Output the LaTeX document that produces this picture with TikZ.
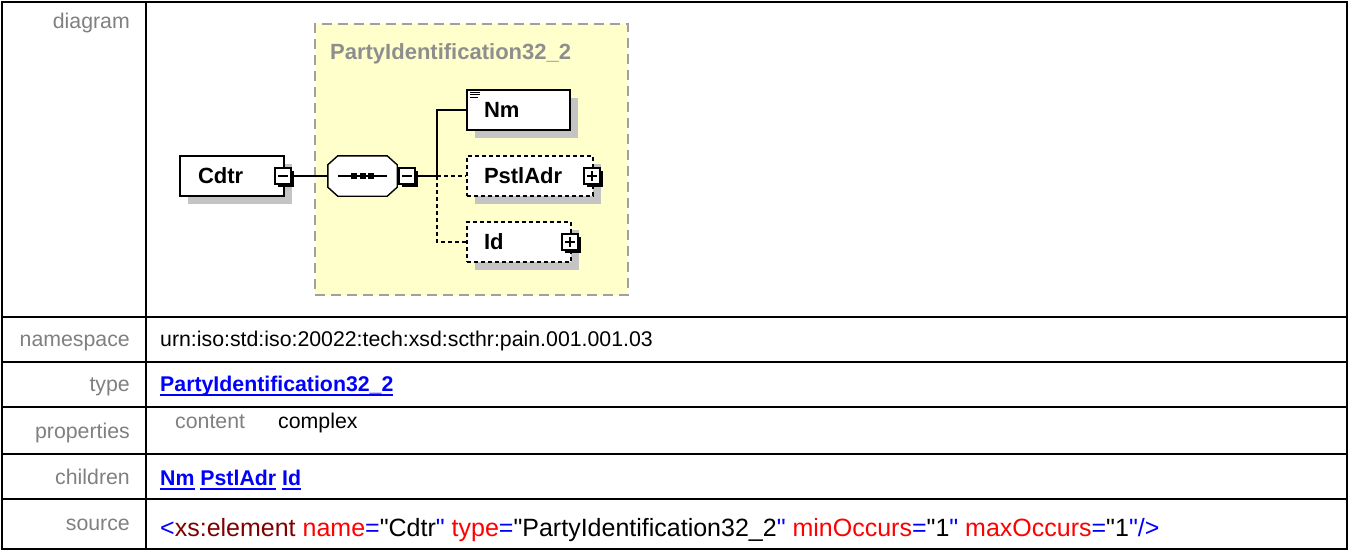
\documentclass[tikz,border=0pt]{standalone}
\usepackage{fontspec}
\setmainfont{Liberation Sans}[Ligatures=TeXOff]
\usetikzlibrary{shadows}
\definecolor{labelgray}{HTML}{808080}
\definecolor{titlegray}{HTML}{8E8E8E}
\definecolor{boxyellow}{HTML}{FFFFCC}
\definecolor{bordergray}{HTML}{A0A0A0}
\definecolor{shadowgray}{HTML}{C4C4C4}
\definecolor{linkblue}{HTML}{0000FF}
\definecolor{tagred}{HTML}{800000}
\definecolor{attrred}{HTML}{FF0000}
\newcommand\myul[1]{\setbox0\hbox{#1}\rlap{\rule[-4pt]{\wd0}{1.7pt}}\box0\relax}
\begin{document}
\begin{tikzpicture}[x=1pt,y=-1pt,
  tbl/.style={line width=2pt},
  lbl/.style={anchor=base east, inner sep=0pt, text=labelgray, font=\fontsize{21.3}{24}\selectfont},
  val/.style={anchor=base west, inner sep=0pt, font=\fontsize{21.3}{24}\selectfont},
  linktext/.style={text=linkblue, font=\fontsize{21.3}{24}\selectfont\bfseries},
  elem/.style={draw, line width=1.4pt, fill=white, rectangle, minimum height=40pt,
    inner ysep=0pt, align=left, font=\fontsize{22}{24}\selectfont\bfseries,
    drop shadow={shadow xshift=8pt, shadow yshift=-8pt, fill=shadowgray, opacity=1}},
  optelem/.style={elem, dash pattern=on 4pt off 3pt},
  btn/.style={draw, line width=1.3pt, fill=white, rectangle, minimum size=16pt, inner sep=0pt,
    drop shadow={shadow xshift=3pt, shadow yshift=-3pt, fill=black, opacity=1}},
  minusbtn/.style={btn, path picture={\draw[line width=1.3pt]
      ([xshift=3pt]path picture bounding box.west) -- ([xshift=-3pt]path picture bounding box.east);}},
  plusbtn/.style={btn, path picture={\draw[line width=1.3pt]
      ([xshift=3pt]path picture bounding box.west) -- ([xshift=-3pt]path picture bounding box.east)
      ([yshift=-3pt]path picture bounding box.north) -- ([yshift=3pt]path picture bounding box.south);}},
  conn/.style={line width=1.4pt},
  optconn/.style={conn, dash pattern=on 4pt off 3pt}
]
\useasboundingbox (0,0) rectangle (1348,550);
\fill[white] (0,0) rectangle (1348,550);

% ---------- table ----------
\draw[tbl] (1.5,1.5) rectangle (1346.5,548.5);
\draw[tbl] (146,1.5) -- (146,548.5);
\foreach \yy in {317,362,407,454,499} \draw[tbl] (1.5,\yy) -- (1346.5,\yy);

\node[lbl] (ldiag) at (130,28.5) {diagram};
\node[lbl] (lns) at (130,346.5) {namespace};
\node[lbl] (ltype) at (130,391.5) {type};
\node[lbl] (lprop) at (130,438.5) {properties};
\node[lbl] (lchild) at (130,484.5) {children};
\node[lbl] (lsrc) at (130,530) {source};

\node[val] (vns) at (160,346.5) {urn:iso:std:iso:20022:tech:xsd:scthr:pain.001.001.03};
\node[val, linktext] (vtype) at (160,391.5) {\myul{PartyIdentification32\_2}};
\node[val, text=labelgray] (vcont) at (175,428.5) {content};
\node[val] (vcomplex) at (278,428.5) {complex};
\node[val, linktext] (vchild) at (160,485.5) {\myul{Nm} \myul{PstlAdr} \myul{Id}};
\node[val, font=\fontsize{25}{28}\selectfont] (vsrc) at (160,536.5)
  {\textcolor{linkblue}{<}\textcolor{tagred}{xs:element} \textcolor{attrred}{name}\textcolor{linkblue}{=}"Cdtr\textcolor{linkblue}{"} \textcolor{attrred}{type}\textcolor{linkblue}{=}"PartyIdentification32\_2\textcolor{linkblue}{"} \textcolor{attrred}{minOccurs}\textcolor{linkblue}{=}"1\textcolor{linkblue}{"} \textcolor{attrred}{maxOccurs}\textcolor{linkblue}{=}"1\textcolor{linkblue}{"/>}};

% ---------- diagram ----------
\node[draw=bordergray, fill=boxyellow, line width=2pt, dash pattern=on 10pt off 6pt,
  rectangle, minimum width=313pt, minimum height=271pt, inner sep=0pt] (ctype) at (471.5,159.5) {};
\node[anchor=base west, inner sep=0pt, text=titlegray, font=\fontsize{22}{24}\selectfont\bfseries]
  (ctitle) at (330,59.3) {PartyIdentification32\_2};

\node[elem, text width=68pt, inner xsep=18pt] (cdtr) at (232,176) {Cdtr};
\node[minusbtn] (cdtrminus) at (283,176) {};

% sequence compositor (octagon)
\node[rectangle, minimum width=69pt, minimum height=40pt, inner sep=0pt] (seq) at (362.5,176) {};
\fill[shadowgray, shift={(8,8)}]
  ([xshift=10pt]seq.north west) -- ([xshift=-10pt]seq.north east) -- ([yshift=-9pt]seq.north east)
  -- ([yshift=9pt]seq.south east) -- ([xshift=-10pt]seq.south east) -- ([xshift=10pt]seq.south west)
  -- ([yshift=9pt]seq.south west) -- ([yshift=-9pt]seq.north west) -- cycle;
\draw[line width=1.4pt, fill=white]
  ([xshift=10pt]seq.north west) -- ([xshift=-10pt]seq.north east) -- ([yshift=-9pt]seq.north east)
  -- ([yshift=9pt]seq.south east) -- ([xshift=-10pt]seq.south east) -- ([xshift=10pt]seq.south west)
  -- ([yshift=9pt]seq.south west) -- ([yshift=-9pt]seq.north west) -- cycle;
\draw[line width=1.4pt] ([xshift=10pt]seq.west) -- ([xshift=-10pt]seq.east);
\foreach \dx in {-8.7,0,8.7} \fill ([xshift=\dx pt]seq.center) ++(-3,-3) rectangle ++(6,6);
\node[minusbtn] (seqminus) at (407,176) {};

\coordinate (jn) at (437,176);

\node[elem, text width=69pt, inner xsep=17pt] (nm) at (518.5,110) {Nm};
\draw[line width=1.1pt] ([shift={(4,3)}]nm.north west) -- ++(10,0)
  ([shift={(4,5.5)}]nm.north west) -- ++(10,0)
  ([shift={(4,8)}]nm.north west) -- ++(8,0);
\node[optelem, text width=92pt, inner xsep=17pt] (pst) at (530,176) {PstlAdr};
\node[plusbtn] (pstplus) at (592,176) {};
\node[optelem, text width=70pt, inner xsep=17pt] (id) at (519,242) {Id};
\node[plusbtn] (idplus) at (570,242) {};

\draw[conn] (cdtrminus.east) -- (seq.west);
\draw[conn] (seqminus.east) -- (jn);
\draw[conn] (jn) |- (nm.west);
\draw[optconn] (jn) -- (pst.west);
\draw[optconn] (jn) |- (id.west);
\end{tikzpicture}
\end{document}
